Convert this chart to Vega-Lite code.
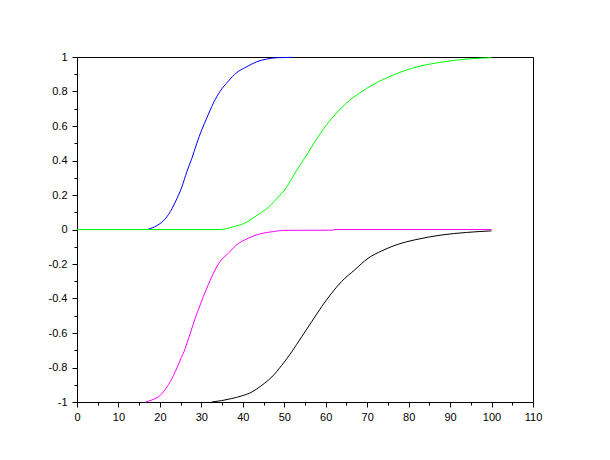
{
  "$schema": "https://vega.github.io/schema/vega-lite/v6.json",
  "autosize": "none",
  "width": 456,
  "height": 345,
  "padding": {"left": 77, "top": 57, "right": 77, "bottom": 58},
  "background": "white",
  "config": {
    "view": {"stroke": "black", "strokeWidth": 1},
    "axis": {"labelFont": "Liberation Sans", "labelFontSize": 11, "labelColor": "black", "domainColor": "black", "tickColor": "black", "grid": false, "title": null}
  },
  "data": {"values": [
    {"s": "blue", "x": 16.9, "y": 0.0},
    {"s": "blue", "x": 19.3, "y": 0.023},
    {"s": "blue", "x": 21.3, "y": 0.062},
    {"s": "blue", "x": 22.9, "y": 0.12},
    {"s": "blue", "x": 24.1, "y": 0.179},
    {"s": "blue", "x": 25.3, "y": 0.247},
    {"s": "blue", "x": 26.5, "y": 0.335},
    {"s": "blue", "x": 27.7, "y": 0.412},
    {"s": "blue", "x": 28.9, "y": 0.5},
    {"s": "blue", "x": 30.1, "y": 0.578},
    {"s": "blue", "x": 31.3, "y": 0.646},
    {"s": "blue", "x": 32.9, "y": 0.733},
    {"s": "blue", "x": 34.5, "y": 0.8},
    {"s": "blue", "x": 36.5, "y": 0.86},
    {"s": "blue", "x": 38.5, "y": 0.909},
    {"s": "blue", "x": 41.0, "y": 0.944},
    {"s": "blue", "x": 43.4, "y": 0.973},
    {"s": "blue", "x": 45.8, "y": 0.988},
    {"s": "blue", "x": 48.2, "y": 0.996},
    {"s": "blue", "x": 52.0, "y": 0.998},
    {"s": "green", "x": 0.0, "y": 0.0},
    {"s": "green", "x": 34.5, "y": 0.0},
    {"s": "green", "x": 37.7, "y": 0.016},
    {"s": "green", "x": 41.0, "y": 0.043},
    {"s": "green", "x": 43.4, "y": 0.082},
    {"s": "green", "x": 45.8, "y": 0.121},
    {"s": "green", "x": 48.2, "y": 0.179},
    {"s": "green", "x": 50.6, "y": 0.247},
    {"s": "green", "x": 53.0, "y": 0.344},
    {"s": "green", "x": 55.4, "y": 0.432},
    {"s": "green", "x": 57.8, "y": 0.525},
    {"s": "green", "x": 60.2, "y": 0.607},
    {"s": "green", "x": 62.6, "y": 0.675},
    {"s": "green", "x": 65.0, "y": 0.733},
    {"s": "green", "x": 68.2, "y": 0.792},
    {"s": "green", "x": 71.4, "y": 0.84},
    {"s": "green", "x": 74.7, "y": 0.879},
    {"s": "green", "x": 78.7, "y": 0.918},
    {"s": "green", "x": 82.7, "y": 0.947},
    {"s": "green", "x": 87.6, "y": 0.969},
    {"s": "green", "x": 94.0, "y": 0.988},
    {"s": "green", "x": 100.0, "y": 0.996},
    {"s": "black", "x": 32.5, "y": -1.0},
    {"s": "black", "x": 34.9, "y": -0.992},
    {"s": "black", "x": 37.3, "y": -0.98},
    {"s": "black", "x": 39.7, "y": -0.965},
    {"s": "black", "x": 42.2, "y": -0.942},
    {"s": "black", "x": 44.6, "y": -0.903},
    {"s": "black", "x": 47.0, "y": -0.855},
    {"s": "black", "x": 49.4, "y": -0.787},
    {"s": "black", "x": 51.8, "y": -0.709},
    {"s": "black", "x": 54.2, "y": -0.622},
    {"s": "black", "x": 56.6, "y": -0.535},
    {"s": "black", "x": 59.0, "y": -0.448},
    {"s": "black", "x": 61.4, "y": -0.37},
    {"s": "black", "x": 63.8, "y": -0.302},
    {"s": "black", "x": 67.0, "y": -0.234},
    {"s": "black", "x": 70.2, "y": -0.167},
    {"s": "black", "x": 73.5, "y": -0.124},
    {"s": "black", "x": 77.5, "y": -0.085},
    {"s": "black", "x": 81.5, "y": -0.06},
    {"s": "black", "x": 87.6, "y": -0.033},
    {"s": "black", "x": 94.0, "y": -0.017},
    {"s": "black", "x": 100.0, "y": -0.008},
    {"s": "magenta", "x": 16.5, "y": -1.0},
    {"s": "magenta", "x": 18.1, "y": -0.988},
    {"s": "magenta", "x": 20.1, "y": -0.961},
    {"s": "magenta", "x": 21.7, "y": -0.913},
    {"s": "magenta", "x": 23.3, "y": -0.845},
    {"s": "magenta", "x": 24.9, "y": -0.758},
    {"s": "magenta", "x": 26.1, "y": -0.69},
    {"s": "magenta", "x": 27.3, "y": -0.603},
    {"s": "magenta", "x": 28.5, "y": -0.516},
    {"s": "magenta", "x": 29.7, "y": -0.438},
    {"s": "magenta", "x": 31.3, "y": -0.341},
    {"s": "magenta", "x": 32.9, "y": -0.254},
    {"s": "magenta", "x": 34.5, "y": -0.186},
    {"s": "magenta", "x": 36.5, "y": -0.138},
    {"s": "magenta", "x": 38.5, "y": -0.089},
    {"s": "magenta", "x": 41.0, "y": -0.054},
    {"s": "magenta", "x": 44.2, "y": -0.025},
    {"s": "magenta", "x": 47.4, "y": -0.012},
    {"s": "magenta", "x": 49.8, "y": -0.005},
    {"s": "magenta", "x": 61.8, "y": -0.004},
    {"s": "magenta", "x": 62.0, "y": 0.0},
    {"s": "magenta", "x": 100.0, "y": 0.0}
  ]},
  "layer": [
    {
      "mark": {"type": "line", "strokeWidth": 1, "interpolate": "monotone"},
      "encoding": {
        "x": {"field": "x", "type": "quantitative", "scale": {"domain": [0, 110], "nice": false},
          "axis": {"values": [0,10,20,30,40,50,60,70,80,90,100,110], "tickSize": 5, "labelPadding": 4, "labelFlush": false, "orient": "bottom"}},
        "y": {"field": "y", "type": "quantitative", "scale": {"domain": [-1, 1], "nice": false},
          "axis": {"values": [-1,-0.8,-0.6,-0.4,-0.2,0,0.2,0.4,0.6,0.8,1], "tickSize": 5, "labelPadding": 5, "labelFlush": false, "orient": "left",
            "labelExpr": "datum.value < 0 ? '-' + format(-datum.value, '~g') : format(datum.value, '~g')"}},
        "color": {"field": "s", "type": "nominal", "scale": {"domain": ["blue", "green", "black", "magenta"], "range": ["#0000ff", "#00ff00", "#000000", "#ff00ff"]}, "legend": null},
        "detail": {"field": "s"}
      }
    },
    {
      "mark": {"type": "line", "strokeOpacity": 0},
      "encoding": {
        "x": {"field": "x", "type": "quantitative",
          "axis": {"values": [5,15,25,35,45,55,65,75,85,95,105], "tickSize": 3, "labels": false, "domain": false, "orient": "bottom"}},
        "y": {"field": "y", "type": "quantitative",
          "axis": {"values": [-0.9,-0.7,-0.5,-0.3,-0.1,0.1,0.3,0.5,0.7,0.9], "tickSize": 3, "labels": false, "domain": false, "orient": "left"}},
        "detail": {"field": "s"}
      }
    }
  ],
  "resolve": {"axis": {"x": "independent", "y": "independent"}}
}
